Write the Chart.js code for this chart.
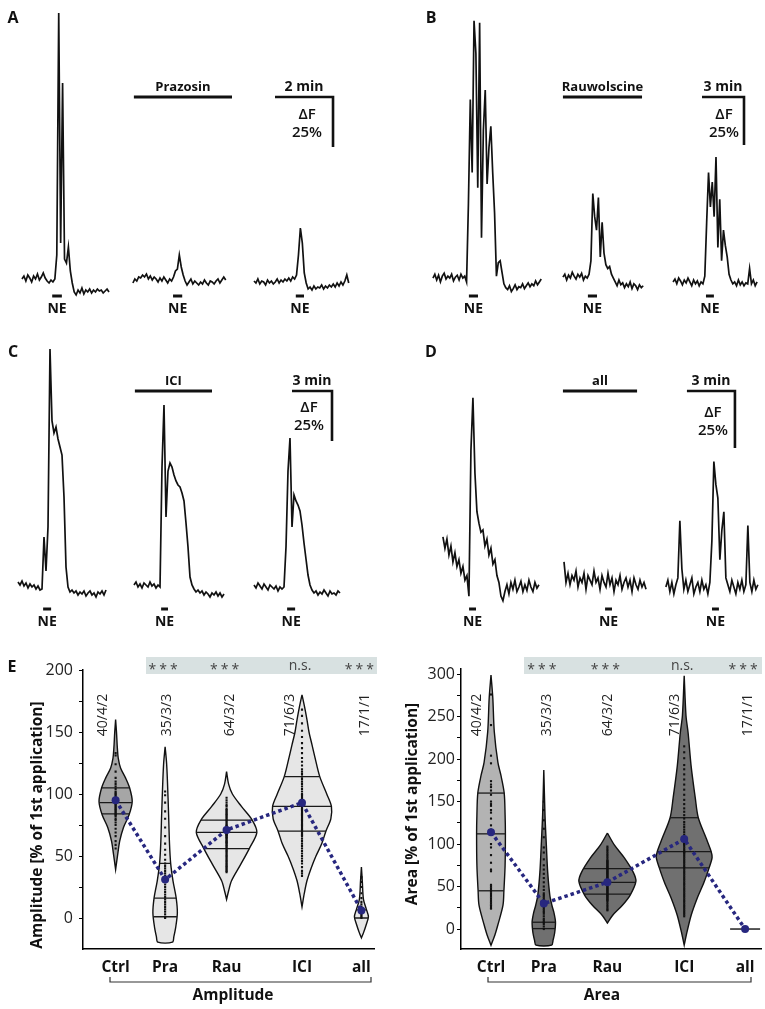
<!DOCTYPE html>
<html>
<head>
<meta charset="utf-8">
<script src="https://cdn.jsdelivr.net/npm/chart.js@4.4.1/dist/chart.umd.min.js"></script>
<style>
  html, body { margin: 0; padding: 0; background: #fff; }
  #fig { position: relative; width: 765px; height: 1009px; overflow: hidden; background: #fff; }
  #fig canvas { position: absolute; }
</style>
</head>
<body>
<div id="fig">
  <canvas id="panelA" width="380" height="330" style="left:0;top:0"></canvas>
  <canvas id="panelB" width="385" height="330" style="left:380px;top:0"></canvas>
  <canvas id="panelC" width="380" height="330" style="left:0;top:310px"></canvas>
  <canvas id="panelD" width="385" height="330" style="left:380px;top:310px"></canvas>
  <canvas id="ampChart" width="380" height="369" style="left:0;top:640px"></canvas>
  <canvas id="areaChart" width="385" height="369" style="left:380px;top:640px"></canvas>
</div>
<script>
/* === NE responses: example traces (A-D) and violin summary (E) === */

// ---- Trace data: dF in %, one sample every dt seconds ----
const traceA1 = [2, 3.5, 1, 4, 2.5, 0.5, 3.5, 2, 4.5, 1.5, 3, 5, 2.5, 1, 0, 1.5, 0.5, 2,
  14, 135, 20, 100, 12, 10, 18, 6, 0, -4.5, -6, -3.5, -5, -2.5, -5.5, -3.5, -4.5, -3, -5,
  -3.5, -4.5, -3, -4, -3.5, -5, -4, -3, -4.5];
const traceA2 = [0, 2, 1, 3, 2.5, 4, 3, 4.5, 2, 3.5, 1.5, 3, 2, 0.5, 2.5, 1, 3, 1.5, 0, 2,
  1, 3, 6, 7, 14, 8, 4, 1, -1, 0.5, 2, -0.5, 1, 0, -1, 0.5, -0.5, 1.5, 0, -1,
  1, 0.5, -0.5, 1, 2, 0, 1.5, 3, 1.5];
const traceA3 = [1, 0, 2, -0.5, 1, 0.5, -1, 1.5, 0, 1, -0.5, 0.5, 2, 0, 1.5, 0.5, 2, 1, 2.5, 1,
  3, 2, 4, 14, 27.5, 20, 5, 0, -3, -2, -3.5, -1.5, -3, -2, -2.5, -1, -3, -1.5, -2.5, -1,
  -2, -0.5, -2, 0, -1.5, 0.5, -1, 1, 4, 0];

const traceB1 = [1, 3, 0, 2.5, -1, 2, 3.5, 0.5, 2, 1, 3, -0.5, 1.5, 2.5, 0, 3, 1, 2, -1,
  40, 94, 56, 135, 118, 48, 134, 22, 78, 99, 50, 69, 80, 56, 35, 2, 9, 10, 4, -2,
  -4, -5, -3, -6, -4.5, -2.5, -5, -3.5, -4, -2, -4.5, -3, -1.5, -3.5, -2, -3, -0.5, -2.5, -1, 0.5];
const traceB2 = [1.5, 3, 0, 2.5, 1, 4, 2, 0.5, 3, 1.5, 3.5, 0, 2, 1, 3,
  10, 45, 33, 26, 43, 12, 30, 14, 8, 6, 7, 3, 1,
  -1, -3, 0, -2.5, -1.5, -4, -2, -3.5, -1, -4.5, -2, -3, -5, -2.5, -4, -3];
const traceB3 = [-1, 0.5, -2, 1, -0.5, -2.5, 0, -1.5, 1, -1, -3, 0, -2, -0.5, -3, -1, -2,
  2, 30, 56, 38, 51, 33, 64, 17, 42, 10, 26, 18, 12, 3, 0,
  -2, -1, -3, 0, -2.5, -1, -3, -1.5, -2, 6, -2, 0, -3, -1];

const traceC1 = [2.5, 1, 3, 0.5, 2, -0.5, 1.5, 0, 1, -1, 0.5, -1.5, -1,
  25, 8, 30, 119, 83, 77, 80, 74, 70, 66, 45, 10, 0,
  -2.5, -1.5, -3, -2, -4, -2.5, -3.5, -2, -4.5, -3, -2, -4, -3, -5, -2.5, -3.5, -2, -4, -1.5];
const traceC2 = [1, 2.5, 0, 1.5, -0.5, 2, 1, 0, 2.5, 0.5, 1.5, -0.5, 1, 0,
  60, 91, 35, 58, 62, 60, 56, 53, 51, 50, 47, 43, 32, 20, 5, 1,
  -1, -2.5, -1.5, -3, -2, -4, -2.5, -3.5, -5, -3, -4, -2.5, -4.5, -3, -5, -3.5];
const traceC3 = [1, -0.5, 2, 0.5, -1, 1.5, 0, -1.5, 1, 0, -1, 0.5, -2, 0, -1, 0,
  20, 58, 74.5, 30, 46, 43, 41, 38, 31, 22, 14, 6, 1, -1.5,
  -3, -2, -4, -2.5, -3.5, -1.5, -3, -4.5, -2, -3.5, -3, -4, -2, -3];

const traceD1 = [22, 17, 21, 14, 18, 11, 15, 9, 12, 6, 9, 3, 5, -4,
  60, 83, 50, 33, 28, 24, 25, 18, 21, 14, 17, 10, 12, 5, 2, -4, -6, -2,
  1, -3, 2, -1, 3, -2, 0, 2.5, -2, 1, -1.5, 3, 0, -2, 2, -0.5, 1];
const traceD2 = [11, 2, 6, 1, 5, 3, 7, 0, 4, 2, 6, -1, 5, 3, 1, 7, 2, 4, -1, 5,
  2, 0, 6, 1, 4, -2, 3, 1, 5, -1, 2, 4, 0, 3, -2, 4, 1, -1, 3, 0, 2, -1];
const traceD3 = [0, 3, -2, 2, -3, 1, 4, 29, 8,
  -1, 3, -2, 1, 4, -3, 0, 2, -2, 3, -1, 1, -3, 2,
  20, 55, 45, 39, 12, 25, 33, 4, 1,
  -2, 3, 0, -3, 2, -1, 3, -2, 1, 27, 2, -2, 3, -1, 1];

// ---- Application times (s) ----
const drugA = [277, 480];
const neA = [[108, 128], [358, 377], [612, 629]];
const scaleA = [569, 689];
const drugB = [784, 1123];
const neB = [[381, 420], [891, 930], [1397, 1431]];
const scaleB = [1380, 1560];
const drugC = [607, 954];
const neC = [[194, 230], [725, 756], [1292, 1328]];
const scaleC = [1314, 1494];
const drugD = [686, 964];
const neD = [[334, 360], [844, 870], [1245, 1271]];
const scaleD = [1151, 1331];

// ---- Panel E: violin data ----
const groups = ['Ctrl', 'Pra', 'Rau', 'ICI', 'all'];
const nLabels = ['40/4/2', '35/3/3', '64/3/2', '71/6/3', '17/1/1'];
const sigLabels = ['***', '***', 'n.s.', '***'];
const ampTicks = [0, 25, 50, 75, 100, 125, 150, 175, 200];
const areaTicks = [0, 25, 50, 75, 100, 125, 150, 175, 200, 225, 250, 275, 300];

// outline: [value, half width]
const ampCtrlShape = [[160, 0], [150, 0.03], [137, 0.06], [129, 0.09], [121, 0.17], [113, 0.34], [105, 0.48], [94, 0.57], [83, 0.46], [73, 0.27], [62, 0.14], [51, 0.07], [39, 0]];
const ampPraShape = [[138, 0], [125, 0.05], [110, 0.08], [83, 0.12], [60, 0.15], [44, 0.19], [30, 0.27], [16, 0.38], [4, 0.42], [-8, 0.36], [-15, 0.3], [-19.5, 0.25]];
const ampRauShape = [[118, 0], [108, 0.07], [100, 0.2], [90, 0.51], [79, 0.88], [69, 1.04], [56, 0.78], [43, 0.48], [30, 0.17], [21, 0.06], [15, 0]];
const ampIciShape = [[180, 0], [170, 0.09], [160, 0.17], [150, 0.24], [140, 0.34], [130, 0.44], [114, 0.61], [100, 0.85], [90, 1.01], [80, 0.99], [70, 0.82], [60, 0.68], [50, 0.48], [40, 0.31], [30, 0.17], [20, 0.08], [9, 0]];
const ampAllShape = [[41, 0], [30, 0.03], [15, 0.07], [7, 0.17], [1, 0.24], [-5, 0.17], [-12, 0.07], [-16, 0]];
const ampQuart = [[105, 93, 84], [44, 16, 1], [79, 69, 56], [114, 90, 70], [6.5, 0]];
const ampMeans = [95, 31, 71, 93, 6];

const ampCtrlDots = [133, 131, 124, 118, 113, 110, 108, 106, 104, 102, 101, 100, 99, 98, 97, 96, 95, 94, 93, 92, 91, 90, 89, 88, 87, 86, 85, 84, 83, 82, 80, 79, 77, 75, 72, 69, 66, 62, 59, 56];
const ampPraDots = [102, 99, 93, 86, 80, 73, 66, 60, 55, 51, 47, 44, 42, 40, 38, 36, 34, 32, 31, 29, 27, 25, 23, 21, 19, 17, 15, 13, 11, 9, 7, 5, 3, 1, 0];
const ampRauDots = [97, 95, 93, 91, 90, 88, 87, 86, 85, 84, 83, 82, 81, 80, 79, 78, 77, 76, 75, 74, 73, 72, 72, 71, 70, 70, 69, 68, 68, 67, 66, 65, 65, 64, 63, 62, 61, 60, 59, 58, 57, 56, 55, 54, 53, 52, 51, 50, 49, 48, 47, 46, 45, 44, 43, 42, 41, 40, 39, 38, 37, 74, 67, 61];
const ampIciDots = [168, 163, 157, 151, 146, 141, 137, 133, 129, 126, 123, 120, 118, 116, 114, 112, 110, 108, 106, 104, 102, 100, 99, 98, 97, 96, 95, 94, 93, 92, 91, 90, 89, 88, 87, 86, 85, 84, 83, 82, 81, 80, 79, 78, 77, 76, 75, 74, 73, 72, 71, 70, 69, 68, 67, 66, 64, 62, 60, 58, 56, 54, 52, 50, 48, 46, 44, 41, 38, 36, 34];
const ampAllDots = [33, 29, 25, 20, 16, 13, 11, 9, 8, 7, 6, 5, 4, 3, 2, 1, 0];

const areaCtrlShape = [[299, 0], [272, 0.06], [232, 0.11], [196, 0.23], [181, 0.33], [160, 0.44], [134, 0.47], [112, 0.48], [75, 0.47], [45, 0.43], [28, 0.4], [5, 0.23], [-7, 0.13], [-19, 0]];
const areaPraShape = [[187, 0], [134, 0.04], [95, 0.09], [67, 0.13], [40, 0.2], [28, 0.27], [19, 0.34], [8, 0.39], [-5, 0.36], [-13, 0.31], [-19, 0.26]];
const areaRauShape = [[113, 0], [99, 0.23], [84, 0.56], [67, 0.86], [56, 0.95], [40, 0.76], [28, 0.5], [16, 0.17], [7, 0]];
const areaIciShape = [[298, 0], [251, 0.06], [231, 0.13], [192, 0.23], [154, 0.37], [131, 0.47], [107, 0.73], [91, 0.9], [84, 0.93], [72, 0.83], [55, 0.66], [36, 0.43], [16, 0.23], [-4, 0.09], [-19, 0]];
const areaAllShape = [[0, 0.5]];
const areaQuart = [[160, 112, 45], [8, 0.5], [71, 55, 41], [131, 91, 72], []];
const areaMeans = [114, 30, 55, 106, 0];

const areaCtrlDots = [276, 240, 204, 195, 174, 170, 167, 163, 158, 150, 147, 145, 140, 137, 130, 122, 117, 112, 100, 96, 87, 78, 70, 68, 52, 50, 48, 46, 44, 42, 40, 38, 36, 34, 32, 30, 28, 27, 25, 24];
const areaPraDots = [150, 140, 128, 118, 108, 96, 90, 82, 75, 70, 65, 60, 55, 50, 46, 42, 40, 38, 36, 34, 32, 30, 28, 26, 24, 22, 20, 18, 15, 12, 10, 8, 6, 3, 0];
const areaRauDots = [97, 95, 93, 91, 89, 87, 85, 83, 81, 80, 79, 78, 77, 76, 75, 74, 73, 72, 71, 70, 69, 68, 67, 66, 65, 64, 63, 62, 61, 60, 59, 58, 57, 56, 55, 54, 53, 52, 51, 50, 49, 48, 47, 46, 45, 44, 43, 42, 41, 40, 39, 38, 37, 36, 35, 34, 33, 31, 29, 27, 25, 23, 22, 57];
const areaIciDots = [215, 208, 201, 193, 188, 182, 176, 170, 164, 158, 152, 147, 142, 138, 134, 130, 126, 123, 120, 117, 114, 111, 108, 105, 103, 101, 99, 97, 95, 93, 91, 89, 87, 85, 83, 81, 79, 77, 75, 73, 71, 69, 67, 65, 63, 61, 59, 57, 55, 53, 51, 49, 47, 45, 43, 41, 39, 37, 35, 33, 31, 29, 27, 25, 23, 21, 19, 17, 15, 100, 90];
const areaAllDots = [0, 0, 0, 0, 0, 0, 0, 0, 0, 0, 0, 0, 0, 0, 0, 0, 0];

// category centres on the 0-10 x axis
const ampPos = [1.12, 2.82, 4.93, 7.52, 9.56];
const areaPos = [1.0, 2.76, 4.88, 7.44, 9.47];

// ---- Styling ----
const ink = '#111';
const navy = '#27277f';
const FONT = '"Open Sans", "DejaVu Sans", sans-serif';
Chart.defaults.font.family = FONT;
Chart.defaults.color = '#222';

// ---- Trace panels A-D ----
const tracePanels = [
  { canvas: 'panelA', letter: 'A', lx: 13, ly: 18, w: 380, h: 330, secPerPx: 120 / 58, pctPx: 2, base: 283, dt: 4,
    barPx: 97, nePx: 296, traces: [traceA1, traceA2, traceA3], starts: [45.5, 275, 525.5],
    drug: drugA, drugName: 'Prazosin', ne: neA, scale: scaleA, scaleName: '2 min', dfX: -26, dfY: 18 },
  { canvas: 'panelB', letter: 'B', lx: 51, ly: 18, w: 385, h: 330, secPerPx: 180 / 42, pctPx: 1.92, base: 280, dt: 8,
    barPx: 97, nePx: 296, traces: [traceB1, traceB2, traceB3], starts: [227, 784, 1256],
    drug: drugB, drugName: 'Rauwolscine', ne: neB, scale: scaleB, scaleName: '3 min', dfX: -20, dfY: 18 },
  { canvas: 'panelC', letter: 'C', lx: 13, ly: 42, w: 380, h: 330, secPerPx: 4.5, pctPx: 2, base: 277, dt: 9,
    barPx: 81, nePx: 299, traces: [traceC1, traceC2, traceC3], starts: [81, 603, 1143],
    drug: drugC, drugName: 'ICI', ne: neC, scale: scaleC, scaleName: '3 min', dfX: -23, dfY: 17 },
  { canvas: 'panelD', letter: 'D', lx: 51, ly: 42, w: 385, h: 330, secPerPx: 3.75, pctPx: 2.28, base: 277, dt: 7.5,
    barPx: 81, nePx: 299, traces: [traceD1, traceD2, traceD3], starts: [236, 690, 1072],
    drug: drugD, drugName: 'all', ne: neD, scale: scaleD, scaleName: '3 min', dfX: -22, dfY: 22 }
];

function tracePlugin(p) {
  return {
    id: 'trace' + p.letter,
    afterDraw(chart) {
      const ctx = chart.ctx;
      const X = t => chart.scales.x.getPixelForValue(t);
      const ys = chart.scales.y;
      ctx.save();
      ctx.fillStyle = ink;
      ctx.strokeStyle = ink;
      ctx.textAlign = 'center';
      ctx.textBaseline = 'middle';

      ctx.font = 'bold 16px ' + FONT;
      ctx.fillText(p.letter, p.lx, p.ly);

      // drug application bar
      ctx.lineWidth = 3;
      ctx.beginPath();
      ctx.moveTo(X(p.drug[0]), p.barPx);
      ctx.lineTo(X(p.drug[1]), p.barPx);
      ctx.stroke();
      ctx.font = 'bold 13px ' + FONT;
      ctx.fillText(p.drugName, (X(p.drug[0]) + X(p.drug[1])) / 2, p.barPx - 10);

      // NE applications
      ctx.font = 'bold 14px ' + FONT;
      p.ne.forEach(([a, b]) => {
        ctx.lineWidth = 3;
        ctx.beginPath();
        ctx.moveTo(X(a), p.nePx);
        ctx.lineTo(X(b), p.nePx);
        ctx.stroke();
        ctx.fillText('NE', (X(a) + X(b)) / 2, p.nePx + 13);
      });

      // scale bar
      const sx0 = X(p.scale[0]), sx1 = X(p.scale[1]);
      const vlen = ys.getPixelForValue(0) - ys.getPixelForValue(25);
      ctx.lineWidth = 2.6;
      ctx.lineJoin = 'miter';
      ctx.beginPath();
      ctx.moveTo(sx0, p.barPx);
      ctx.lineTo(sx1, p.barPx);
      ctx.lineTo(sx1, p.barPx + vlen);
      ctx.stroke();
      ctx.font = 'bold 14px ' + FONT;
      ctx.fillText(p.scaleName, (sx0 + sx1) / 2, p.barPx - 10);
      ctx.font = '600 15px ' + FONT;
      ctx.fillText('\u0394F', sx1 + p.dfX, p.barPx + p.dfY);
      ctx.fillText('25%', sx1 + p.dfX, p.barPx + p.dfY + 18);
      ctx.restore();
    }
  };
}

function buildTracePanel(p) {
  const datasets = p.traces.map((vals, k) => ({
    data: vals.map((v, i) => ({ x: p.starts[k] + i * p.dt, y: v })),
    showLine: true,
    borderColor: ink,
    borderWidth: 1.7,
    pointRadius: 0,
    tension: 0,
    fill: false
  }));
  new Chart(document.getElementById(p.canvas), {
    type: 'scatter',
    data: { datasets },
    options: {
      animation: false,
      responsive: false,
      events: [],
      layout: { padding: 0 },
      plugins: { legend: { display: false }, tooltip: { enabled: false } },
      scales: {
        x: { type: 'linear', display: false, min: 0, max: p.w * p.secPerPx },
        y: { type: 'linear', display: false, min: -(p.h - p.base) / p.pctPx, max: p.base / p.pctPx }
      }
    },
    plugins: [tracePlugin(p)]
  });
}

tracePanels.forEach(buildTracePanel);

// ---- Panel E: violins ----
function widthAt(shape, v) {
  for (let i = 0; i < shape.length - 1; i++) {
    const [v0, w0] = shape[i], [v1, w1] = shape[i + 1];
    if (v <= v0 && v >= v1) return w0 + (w1 - w0) * (v0 - v) / (v0 - v1);
  }
  return shape[shape.length - 1][1];
}

function violinDatasets(cfg) {
  const ds = [];
  ds.push({
    data: cfg.pos.map((x, i) => ({ x, y: cfg.means[i] })),
    showLine: true, borderColor: navy, borderWidth: 3.5, borderDash: [3.5, 3], borderCapStyle: 'butt',
    pointRadius: 4, pointBackgroundColor: navy, pointBorderWidth: 0, tension: 0, order: 0
  });
  cfg.pos.forEach((c, i) => {
    const shape = cfg.shapes[i];
    ds.push({
      data: cfg.dots[i].map(y => ({ x: c, y })),
      showLine: false, pointRadius: 1.5, pointStyle: 'rect', pointBackgroundColor: ink, pointBorderWidth: 0, order: 1
    });
    cfg.quarts[i].forEach(q => {
      const w = widthAt(shape, q);
      ds.push({
        data: [{ x: c - w, y: q }, { x: c + w, y: q }],
        showLine: true, borderColor: '#1a1a1a', borderWidth: 1.3, pointRadius: 0, order: 2
      });
    });
    if (shape.length === 1) {
      const [v, w] = shape[0];
      ds.push({
        data: [{ x: c - w, y: v }, { x: c + w, y: v }],
        showLine: true, borderColor: ink, borderWidth: 1.4, pointRadius: 0, order: 3
      });
    } else {
      const right = shape.map(([v, w]) => ({ x: c + w, y: v }));
      const left = shape.slice().reverse().map(([v, w]) => ({ x: c - w, y: v }));
      ds.push({
        data: right.concat(left),
        showLine: true, fill: 'shape', backgroundColor: cfg.fills[i], borderColor: ink, borderWidth: 1.4,
        pointRadius: 0, tension: 0.3, order: 3
      });
    }
  });
  return ds;
}

function violinPlugin(cfg) {
  return {
    id: 'violin' + cfg.canvas,
    beforeDraw(chart) {
      const ctx = chart.ctx;
      ctx.save();
      ctx.fillStyle = '#d8e1e1';
      ctx.fillRect(cfg.band[0], 17, cfg.band[1] - cfg.band[0], 17);
      ctx.restore();
    },
    afterDraw(chart) {
      const ctx = chart.ctx;
      const xs = chart.scales.x;
      ctx.save();
      ctx.textAlign = 'center';

      // significance labels in the band
      ctx.fillStyle = '#444';
      ctx.font = '14px ' + FONT;
      sigLabels.forEach((s, i) => {
        const x = xs.getPixelForValue(cfg.pos[i + 1]) - 2;
        if (s === 'n.s.') {
          ctx.letterSpacing = '0px';
          ctx.textBaseline = 'alphabetic';
          ctx.fillText(s, x, 30);
        } else {
          ctx.letterSpacing = '3px';
          ctx.textBaseline = 'alphabetic';
          ctx.fillText(s, x + 1.5, 34);
        }
      });
      ctx.letterSpacing = '0px';

      // n numbers, rotated
      ctx.fillStyle = '#222';
      ctx.font = '14px ' + FONT;
      ctx.textBaseline = 'middle';
      cfg.nX.forEach((x, i) => {
        ctx.save();
        ctx.translate(x, 75);
        ctx.rotate(-Math.PI / 2);
        ctx.fillText(nLabels[i], 0, 0);
        ctx.restore();
      });

      // bracket and group title under the axis
      ctx.strokeStyle = '#333';
      ctx.lineWidth = 1.2;
      ctx.beginPath();
      ctx.moveTo(cfg.bracket[0], 337);
      ctx.lineTo(cfg.bracket[0], 342);
      ctx.lineTo(cfg.bracket[1], 342);
      ctx.lineTo(cfg.bracket[1], 337);
      ctx.stroke();
      ctx.fillStyle = ink;
      ctx.font = 'bold 15.5px ' + FONT;
      ctx.fillText(cfg.xTitle, cfg.xTitleX, 356);

      // y title
      ctx.save();
      ctx.translate(cfg.yTitleX, cfg.yTitleY);
      ctx.rotate(-Math.PI / 2);
      ctx.fillText(cfg.yTitle, 0, 0);
      ctx.restore();

      if (cfg.letter) {
        ctx.font = 'bold 16px ' + FONT;
        ctx.fillText(cfg.letter, 12, 27);
      }
      ctx.restore();
    }
  };
}

function buildViolinChart(cfg) {
  new Chart(document.getElementById(cfg.canvas), {
    type: 'scatter',
    data: { datasets: violinDatasets(cfg) },
    options: {
      animation: false,
      responsive: false,
      events: [],
      layout: { padding: { left: 0, right: cfg.padRight, top: cfg.padTop, bottom: 0 } },
      plugins: { legend: { display: false }, tooltip: { enabled: false } },
      scales: {
        x: {
          type: 'linear', min: 0, max: 10,
          afterFit: s => { s.height = 60; },
          afterBuildTicks: s => { s.ticks = cfg.pos.map(v => ({ value: v })); },
          grid: { display: false, drawTicks: false },
          border: { display: true, color: '#000', width: 1.5 },
          ticks: {
            autoSkip: false, maxRotation: 0, padding: 9, color: ink,
            font: { size: 15.5, weight: 'bold' },
            callback: (v, i) => groups[i]
          }
        },
        y: {
          type: 'linear', min: cfg.yMin, max: cfg.yMax,
          afterFit: s => { s.width = cfg.yW; },
          afterBuildTicks: s => { s.ticks = cfg.ticks.map(v => ({ value: v })); },
          grid: { display: true, drawOnChartArea: false, drawTicks: true, tickLength: 4, color: '#000', lineWidth: 1 },
          border: { display: true, color: '#000', width: 1.5 },
          ticks: {
            padding: cfg.tickPad, color: '#222', font: { size: 16 },
            callback: v => (v % 50 === 0 ? String(v) : '')
          }
        }
      }
    },
    plugins: [violinPlugin(cfg)]
  });
}

buildViolinChart({
  canvas: 'ampChart', letter: 'E', pos: ampPos,
  shapes: [ampCtrlShape, ampPraShape, ampRauShape, ampIciShape, ampAllShape],
  quarts: ampQuart, means: ampMeans,
  dots: [ampCtrlDots, ampPraDots, ampRauDots, ampIciDots, ampAllDots],
  fills: ['#a6a6a6', '#e6e6e6', '#e6e6e6', '#e6e6e6', '#e6e6e6'],
  yMin: -25, yMax: 200, ticks: ampTicks, yW: 83, padTop: 30, padRight: 3, tickPad: 6,
  yTitle: 'Amplitude [% of 1st application]', yTitleX: 38, yTitleY: 185,
  xTitle: 'Amplitude', xTitleX: 233, bracket: [110, 371], band: [146, 377],
  nX: [103, 167, 230, 290, 365]
});

buildViolinChart({
  canvas: 'areaChart', pos: areaPos,
  shapes: [areaCtrlShape, areaPraShape, areaRauShape, areaIciShape, areaAllShape],
  quarts: areaQuart, means: areaMeans,
  dots: [areaCtrlDots, areaPraDots, areaRauDots, areaIciDots, areaAllDots],
  fills: ['#b3b3b3', '#707070', '#707070', '#707070', '#707070'],
  yMin: -23.5, yMax: 306, ticks: areaTicks, yW: 81, padTop: 29, padRight: 3, tickPad: 2,
  yTitle: 'Area [% of 1st application]', yTitleX: 33, yTitleY: 164,
  xTitle: 'Area', xTitleX: 222, bracket: [108, 371], band: [144, 382],
  nX: [97, 167, 228, 295, 368]
});
</script>
</body>
</html>
